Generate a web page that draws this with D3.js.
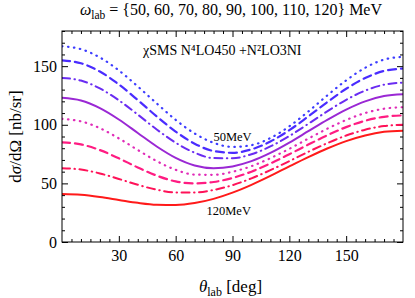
<!DOCTYPE html>
<html>
<head>
<meta charset="utf-8">
<script src="https://cdn.jsdelivr.net/npm/d3@7"></script>
<style>
  body { margin: 0; background: #fff; }
  svg { display: block; }
</style>
</head>
<body>
<script>
// angles (deg)
var theta = [0, 10, 20, 30, 40, 50, 60, 70, 80, 90, 100, 110, 120, 130, 140, 150, 160, 170, 180];

// photon energies (MeV)
var energies = [50, 60, 70, 80, 90, 100, 110, 120];

// cross sections dσ/dΩ [nb/sr], one list per energy
var cs50  = [167, 164.5, 157.4, 146.4, 132.7, 118.2, 104.2, 92.6, 84.6, 81.1, 82.6, 88.7, 98.7, 111.3, 125.0, 137.9, 148.6, 155.6, 158];
var cs60  = [155, 152.5, 145.4, 134.4, 121.1, 107.1, 94.2, 83.9, 77.6, 76.1, 79.0, 85.7, 95.4, 107.1, 119.3, 130.7, 139.9, 145.9, 148];
var cs70  = [140, 137.7, 131.0, 120.9, 108.7, 96.0, 84.7, 76.2, 71.6, 71.5, 74.9, 81.5, 90.4, 100.8, 111.5, 121.3, 129.1, 134.2, 136];
var cs80  = [123, 120.7, 114.2, 104.5, 93.0, 81.5, 71.8, 65.3, 63.0, 64.5, 69.0, 76.0, 84.8, 94.5, 104.2, 113.0, 120.0, 124.5, 126];
var cs90  = [105, 102.9, 97.1, 88.4, 78.5, 69.0, 61.6, 57.5, 57.3, 59.9, 64.7, 71.5, 79.5, 88.2, 96.6, 104.1, 110.0, 113.7, 115];
var cs100 = [85, 83.3, 78.4, 71.4, 63.6, 56.6, 51.7, 50.0, 51.2, 54.6, 60.0, 67.0, 74.9, 83.1, 91.0, 98.0, 103.4, 106.8, 108];
var cs110 = [63, 61.8, 58.5, 53.8, 48.8, 44.6, 42.3, 42.3, 44.4, 48.5, 54.3, 61.3, 69.0, 76.9, 84.3, 90.8, 95.8, 98.9, 100];
var cs120 = [41, 40.3, 38.4, 35.9, 33.4, 31.8, 31.6, 33.2, 36.8, 42.1, 48.8, 56.4, 64.5, 72.4, 79.8, 86.1, 90.9, 94.0, 95];

var allSeries = [cs50, cs60, cs70, cs80, cs90, cs100, cs110, cs120];

var xTicks = [30, 60, 90, 120, 150];
var yTicks = [0, 50, 100, 150];

var colors = ["#3c3cff", "#4a2cff", "#6a2cf2", "#9a28d4", "#e02cb8", "#ff1c82", "#ff1258", "#ff1a1a"];
var dashes = ["0.5,5.5", "8,5", "8,4.5,0.5,4.5", null, "0.5,5.5", "8,5", "8,4.5,0.5,4.5", null];

var FONT = "'Liberation Serif', 'DejaVu Serif', serif";

var W = 415, H = 298;
var margin = { top: 31, right: 12, bottom: 56, left: 62 };
var width = W - margin.left - margin.right;
var height = H - margin.top - margin.bottom;

var svg = d3.select("body").append("svg")
    .attr("width", W)
    .attr("height", H)
    .attr("font-family", FONT);

var g = svg.append("g")
    .attr("transform", "translate(" + margin.left + "," + margin.top + ")");

var x = d3.scaleLinear().domain([0, 180]).range([0, width]);
var y = d3.scaleLinear().domain([0, 180]).range([height, 0]);

// minor ticks
var xMinor = d3.range(0, 181, 5).filter(function(d) { return d % 30 !== 0; });
var yMinor = d3.range(0, 181, 10).filter(function(d) { return d % 50 !== 0; });

function styleAxis(sel) {
    sel.attr("font-family", FONT).attr("font-size", 16);
    sel.select(".domain").remove();
    sel.selectAll("line").attr("stroke", "#000").attr("stroke-width", 1);
}

// bottom
g.append("g").attr("transform", "translate(0," + height + ")")
    .call(d3.axisBottom(x).tickValues(xMinor).tickSize(-3).tickFormat(""))
    .call(styleAxis);
g.append("g").attr("transform", "translate(0," + height + ")")
    .call(d3.axisBottom(x).tickValues(xTicks).tickSize(-6).tickPadding(8))
    .call(styleAxis);
// top
g.append("g")
    .call(d3.axisTop(x).tickValues(xMinor).tickSize(-3).tickFormat(""))
    .call(styleAxis);
g.append("g")
    .call(d3.axisTop(x).tickValues(xTicks).tickSize(-6).tickFormat(""))
    .call(styleAxis);
// left
g.append("g")
    .call(d3.axisLeft(y).tickValues(yMinor).tickSize(-3).tickFormat(""))
    .call(styleAxis);
g.append("g")
    .call(d3.axisLeft(y).tickValues(yTicks).tickSize(-6).tickPadding(5))
    .call(styleAxis);
// right
g.append("g").attr("transform", "translate(" + width + ",0)")
    .call(d3.axisRight(y).tickValues(yMinor).tickSize(-3).tickFormat(""))
    .call(styleAxis);
g.append("g").attr("transform", "translate(" + width + ",0)")
    .call(d3.axisRight(y).tickValues(yTicks).tickSize(-6).tickFormat(""))
    .call(styleAxis);

// curves
var line = d3.line()
    .x(function(d, i) { return x(theta[i]); })
    .y(function(d) { return y(d); })
    .curve(d3.curveMonotoneX);

g.append("defs").append("clipPath").attr("id", "clip")
    .append("rect").attr("width", width).attr("height", height);

g.append("g").attr("clip-path", "url(#clip)")
    .selectAll(".curve")
    .data(allSeries)
    .enter()
    .append("path")
    .attr("class", "curve")
    .attr("d", line)
    .attr("fill", "none")
    .attr("stroke", function(d, i) { return colors[i]; })
    .attr("stroke-width", function(d, i) { return dashes[i] && dashes[i].length < 8 ? 2.2 : 2; })
    .attr("stroke-linecap", function(d, i) { return dashes[i] ? "round" : "butt"; })
    .attr("stroke-dasharray", function(d, i) { return dashes[i]; });

// frame
g.append("rect")
    .attr("width", width).attr("height", height)
    .attr("fill", "none").attr("stroke", "#000").attr("stroke-width", 1);

// annotations
g.append("text")
    .attr("x", 81).attr("y", 24)
    .attr("font-size", 14)
    .text("χSMS  N⁴LO450 +N²LO3NI");

g.append("text")
    .attr("x", x(90)).attr("y", 110)
    .attr("text-anchor", "middle")
    .attr("font-size", 12.5)
    .text("50MeV");

g.append("text")
    .attr("x", x(88)).attr("y", 184)
    .attr("text-anchor", "middle")
    .attr("font-size", 12.5)
    .text("120MeV");

// title
var title = svg.append("text")
    .attr("x", 231).attr("y", 15)
    .attr("text-anchor", "middle")
    .attr("font-size", 16);
title.append("tspan").attr("font-style", "italic").text("ω");
title.append("tspan").attr("dy", 4).attr("font-size", 11.5).text("lab");
title.append("tspan").attr("dy", -4).text(" = {" + energies.join(", ") + "} MeV");

// x label
var xl = svg.append("text")
    .attr("x", margin.left + width / 2 - 2).attr("y", 292)
    .attr("text-anchor", "middle")
    .attr("font-size", 17);
xl.append("tspan").attr("font-style", "italic").text("θ");
xl.append("tspan").attr("dy", 4).attr("font-size", 12).text("lab");
xl.append("tspan").attr("dy", -4).text(" [deg]");

// y label
var yl = svg.append("text")
    .attr("transform", "translate(21," + (margin.top + height / 2) + ") rotate(-90)")
    .attr("text-anchor", "middle")
    .attr("font-size", 17);
yl.append("tspan").text("d");
yl.append("tspan").attr("font-style", "italic").text("σ");
yl.append("tspan").text("/dΩ [nb/sr]");
</script>
</body>
</html>
